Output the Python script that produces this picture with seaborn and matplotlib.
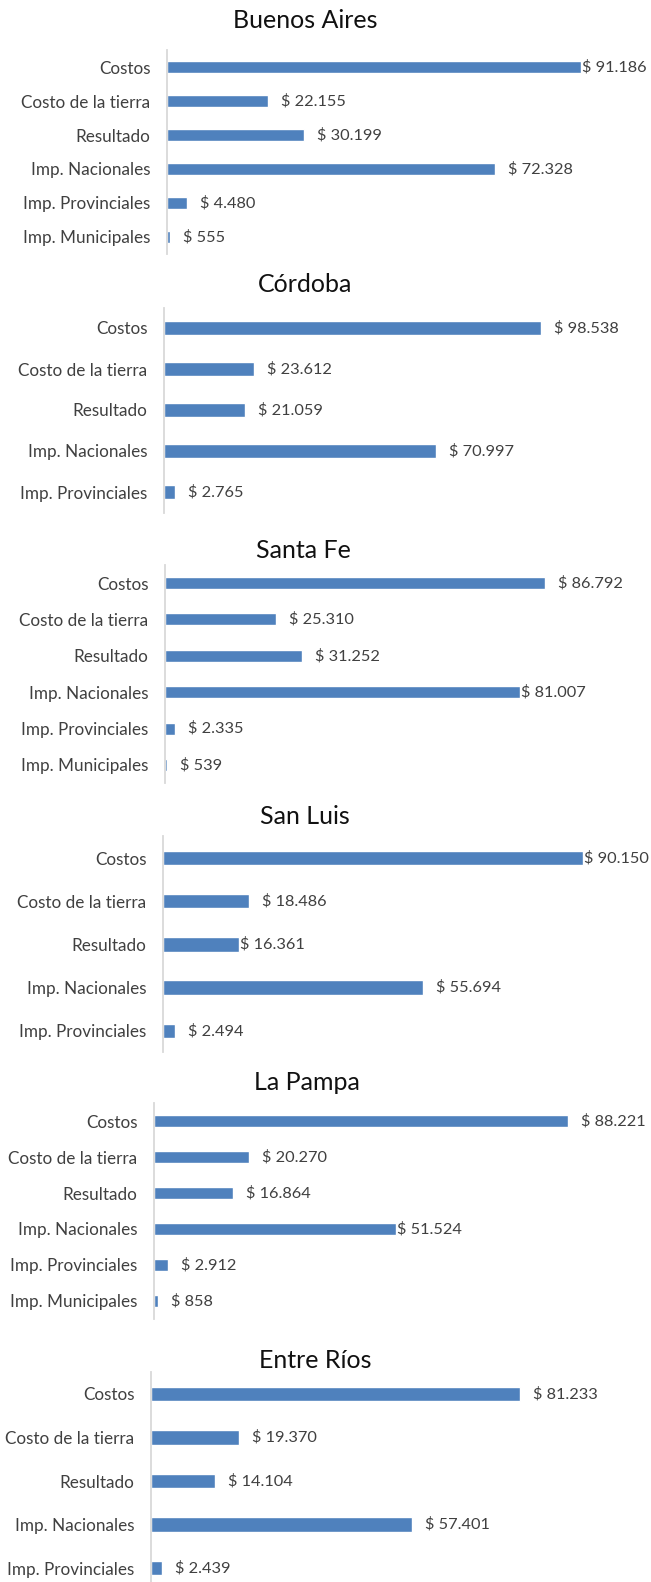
import matplotlib
matplotlib.use("Agg")
import matplotlib.pyplot as plt
import seaborn as sns
import pandas as pd

# ---------------- data ----------------
provincias = ["Buenos Aires", "Córdoba", "Santa Fe", "San Luis", "La Pampa", "Entre Ríos"]

categorias_6 = ["Costos", "Costo de la tierra", "Resultado", "Imp. Nacionales",
                "Imp. Provinciales", "Imp. Municipales"]
categorias_5 = categorias_6[:5]

valores_buenos_aires = [91186, 22155, 30199, 72328, 4480, 555]
valores_cordoba = [98538, 23612, 21059, 70997, 2765]
valores_santa_fe = [86792, 25310, 31252, 81007, 2335, 539]
valores_san_luis = [90150, 18486, 16361, 55694, 2494]
valores_la_pampa = [88221, 20270, 16864, 51524, 2912, 858]
valores_entre_rios = [81233, 19370, 14104, 57401, 2439]

series = [
    (categorias_6, valores_buenos_aires),
    (categorias_5, valores_cordoba),
    (categorias_6, valores_santa_fe),
    (categorias_5, valores_san_luis),
    (categorias_6, valores_la_pampa),
    (categorias_5, valores_entre_rios),
]

# ---------------- layout (pixels) ----------------
W, H = 651, 1582
# left axis x, first bar centre y, row spacing, px per 1000, title x, title y
layout = [
    (167, 67, 34.0, 4.54, 305, 20),
    (164, 328, 41.0, 3.83, 305, 285),
    (165, 583, 36.4, 4.38, 303, 550),
    (163, 858, 43.2, 4.66, 305, 817),
    (154, 1121, 36.0, 4.69, 307, 1083),
    (151, 1394, 43.5, 4.54, 315, 1360),
]
# labels drawn right against the bar end (panel index, category)
pegadas = {(0, "Costos"), (2, "Imp. Nacionales"), (3, "Costos"),
           (3, "Resultado"), (4, "Imp. Nacionales")}

RIGHT = 645
BAR_COLOR = "#4F81BD"
TEXT_COLOR = "#404040"

sns.set_theme(style="white")
plt.rcParams["font.family"] = ["Lato", "DejaVu Sans"]

fig = plt.figure(figsize=(W / 100, H / 100), dpi=100)
fig.patch.set_facecolor("white")


def fmt(v):
    return "$ " + f"{v:,}".replace(",", ".")


for i, ((cats, vals), (lx, y0, sp, scale, tx, ty)) in enumerate(zip(series, layout)):
    n = len(cats)
    top = y0 - sp / 2
    height = n * sp
    ax = fig.add_axes([lx / W, 1 - (top + height) / H, (RIGHT - lx) / W, height / H])
    df = pd.DataFrame({"categoria": cats, "valor": vals})
    sns.barplot(data=df, x="valor", y="categoria", orient="h", color=BAR_COLOR,
                saturation=1, width=0.33, ax=ax)
    xmax = (RIGHT - lx) / scale * 1000
    ax.set_xlim(0, xmax)
    ax.set_ylim(n - 0.5, -0.5)
    ax.set_xlabel("")
    ax.set_ylabel("")
    ax.set_xticks([])
    for s in ["top", "right", "bottom"]:
        ax.spines[s].set_visible(False)
    ax.spines["left"].set_color("#D9D9D9")
    ax.spines["left"].set_linewidth(1.3)
    ax.tick_params(axis="y", length=0, pad=12, labelsize=12.3, labelcolor=TEXT_COLOR)
    ax.set_facecolor("none")
    for j, (c, v) in enumerate(zip(cats, vals)):
        off = 1 if (i, c) in pegadas else 13
        ax.annotate(fmt(v), xy=(v, j), xytext=(off, 0), textcoords="offset pixels",
                    ha="left", va="center", fontsize=11.8, color=TEXT_COLOR)
    fig.text(tx / W, 1 - ty / H, provincias[i], ha="center", va="center",
             fontsize=18, color="#111111")

fig.savefig("out.png", dpi=100, facecolor="white")
